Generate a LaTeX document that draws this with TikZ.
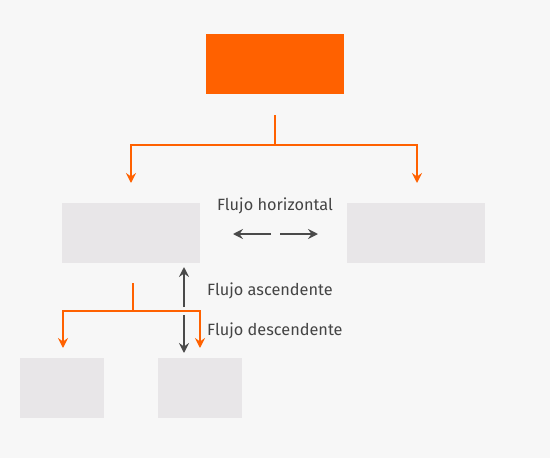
\documentclass[tikz,border=0pt]{standalone}
\usepackage{fontspec}
\setmainfont{Fira Sans}
\usetikzlibrary{arrows.meta}
\definecolor{bg}{HTML}{F7F7F7}
\definecolor{org}{HTML}{FF6100}
\definecolor{boxg}{HTML}{E8E6E8}
\definecolor{txt}{HTML}{444444}
\definecolor{arr}{HTML}{4A4A4A}
\tikzset{
  topbox/.style={fill=org, draw=none, minimum width=138pt, minimum height=60pt, inner sep=0pt},
  graybox/.style={fill=boxg, draw=none, inner sep=0pt},
  midbox/.style={graybox, minimum width=138pt, minimum height=60pt},
  lowbox/.style={graybox, minimum width=84pt, minimum height=60pt},
  oline/.style={draw=org, line width=2.2pt},
  oarrow/.style={oline, -{Stealth[length=10pt, width=10pt, inset=3.5pt]}},
  darrow/.style={draw=arr, line width=2.2pt, -{Stealth[length=10pt, width=10pt, inset=3.5pt]}},
  lbl/.style={text=txt, font=\fontsize{16.3}{19}\selectfont, inner sep=0pt}
}
\begin{document}
\begin{tikzpicture}[x=1pt, y=-1pt]
\useasboundingbox (0,0) rectangle (550,458);
\fill[bg] (0,0) rectangle (550,458);
% boxes
\node[topbox] (top) at (275,64) {};
\node[midbox] (ml) at (131,233) {};
\node[midbox] (mr) at (416,233) {};
\node[lowbox] (bl) at (62,388) {};
\node[lowbox] (br) at (200,388) {};
% top connectors
\coordinate (t0) at (275,115);
\coordinate (t1) at (275,145);
\coordinate (tl) at (131,145);
\coordinate (tr) at (417,145);
\coordinate (tle) at (131,183);
\coordinate (tre) at (417,183);
\draw[oline] (t0) -- (t1);
\draw[oarrow] (t1) -- (tl) -- (tle);
\draw[oarrow] (t1) -- (tr) -- (tre);
% lower connectors
\coordinate (m0) at (133,283);
\coordinate (m1) at (133,311);
\coordinate (ml1) at (63,311);
\coordinate (mr1) at (200,311);
\coordinate (mle) at (63,348);
\coordinate (mre) at (200,348);
\draw[oline] (m0) -- (m1);
\draw[oarrow] (m1) -- (ml1) -- (mle);
\draw[oarrow] (m1) -- (mr1) -- (mre);
% horizontal flow
\node[lbl] (fh) at (275,205.5) {Flujo horizontal};
\coordinate (hl0) at (271,234);
\coordinate (hl1) at (233,234);
\coordinate (hr0) at (280,234);
\coordinate (hr1) at (318,234);
\draw[darrow] (hl0) -- (hl1);
\draw[darrow] (hr0) -- (hr1);
% vertical flows
\coordinate (u0) at (184,307);
\coordinate (u1) at (184,267);
\coordinate (d0) at (184,315);
\coordinate (d1) at (184,353);
\draw[darrow] (u0) -- (u1);
\draw[darrow] (d0) -- (d1);
\node[lbl, anchor=west] (fa) at (207,290.5) {Flujo ascendente};
\node[lbl, anchor=west] (fd) at (207,330.5) {Flujo descendente};
\end{tikzpicture}
\end{document}
